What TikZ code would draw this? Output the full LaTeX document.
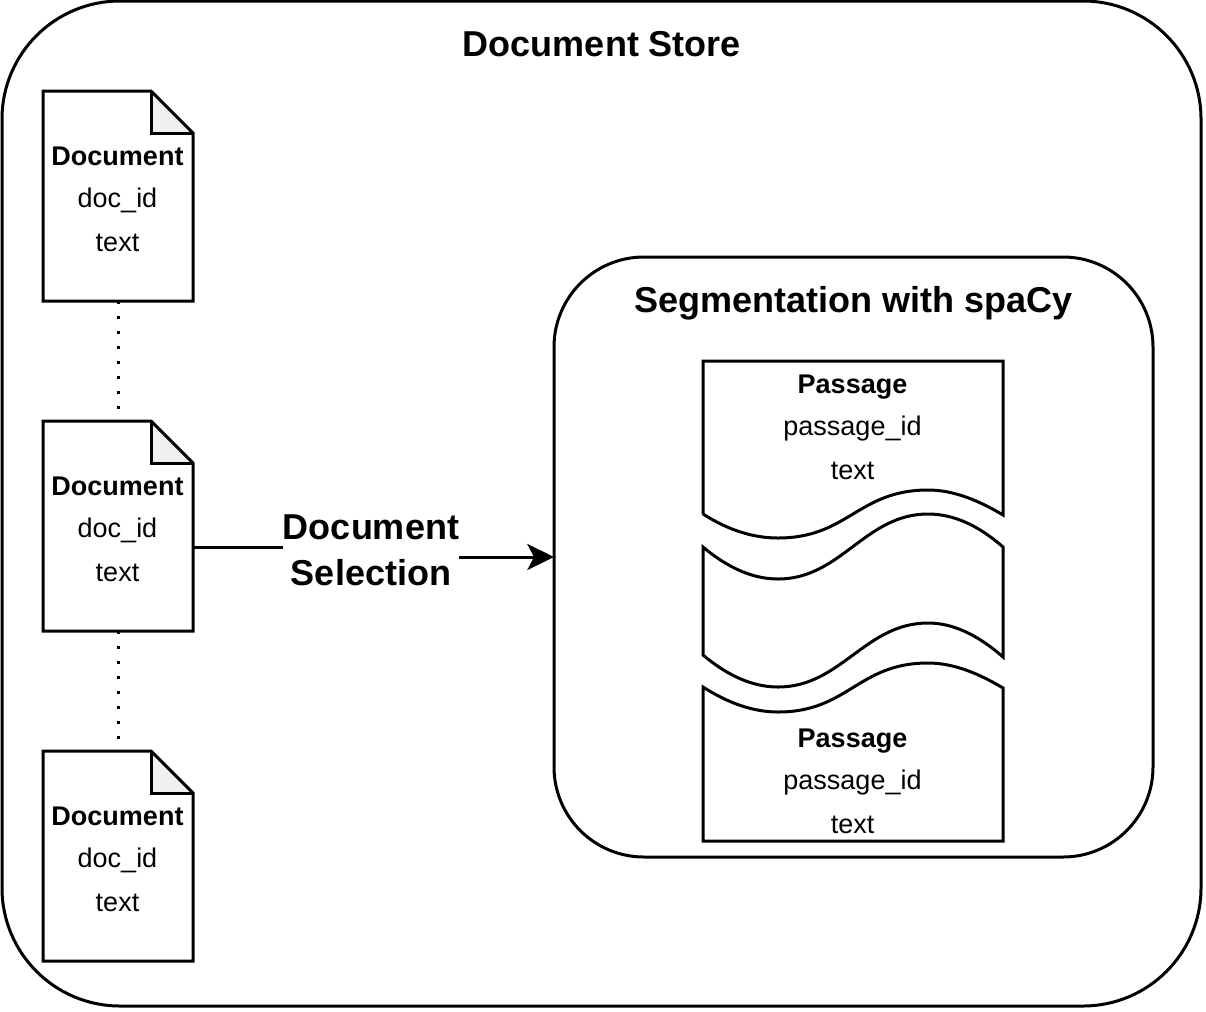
\documentclass[tikz,border=0pt]{standalone}
\usepackage{fontspec}
\setmainfont{Liberation Sans}
\usetikzlibrary{arrows.meta}
\tikzset{
  x=0.75pt,y=-0.75pt,
  ink/.style={draw=black,line width=2.25pt,line join=miter},
  roundbox/.style={ink,rectangle,outer sep=0pt,inner sep=0pt},
  docbox/.style={rectangle,outer sep=0pt,inner sep=0pt,minimum width=112.5pt,minimum height=157.5pt},
  passbox/.style={rectangle,outer sep=0pt,inner sep=0pt,minimum width=225pt,minimum height=10pt},
  fieldtext/.style={align=center,inner sep=0pt,font=\fontsize{20.25}{31.5}\selectfont},
  heading/.style={align=center,inner sep=0pt,font=\fontsize{27}{34.2}\selectfont\bfseries},
  linkline/.style={draw=black,line width=2.25pt,-{Stealth[length=20pt,width=19.5pt,inset=5pt]}},
  dotline/.style={draw=black,line width=2.25pt,dash pattern=on 2.25pt off 9pt},
}
\newcommand{\docoutline}[1]{%
  \fill[black!6] ([xshift=81pt]#1.north west) -- ([xshift=81pt,yshift=-31.5pt]#1.north west) -- ([yshift=-31.5pt]#1.north east) -- cycle;
  \draw[ink] (#1.north west) -- ([xshift=81pt]#1.north west) -- ([yshift=-31.5pt]#1.north east) -- (#1.south east) -- (#1.south west) -- cycle;
  \draw[ink] ([xshift=81pt]#1.north west) -- ([xshift=81pt,yshift=-31.5pt]#1.north west) -- ([yshift=-31.5pt]#1.north east);
}
\begin{document}
\begin{tikzpicture}
\useasboundingbox (0,0) rectangle (1206,1011);
\node[roundbox,minimum width=899.25pt,minimum height=753.75pt,rounded corners=88.5pt] (store) at (601.5,503.5) {};
\node[heading] (storelabel) at (602,44) {Document Store};
\node[roundbox,minimum width=449.25pt,minimum height=450pt,rounded corners=67.5pt] (seg) at (853.5,557) {};
\node[heading] (seglabel) at (853.5,303) {Segmentation with spaCy};
% documents
\node[docbox] (doc1) at (118,196) {};
\node[docbox] (doc2) at (118,526) {};
\node[docbox] (doc3) at (118,856) {};
\draw[dotline] (doc1.south) -- (doc2.north);
\draw[dotline] (doc2.south) -- (doc3.north);
\docoutline{doc1}
\docoutline{doc2}
\docoutline{doc3}
\node[fieldtext] (doc1text) at (117.5,199.5) {\textbf{Document}\\doc\_id\\[1.5pt]text};
\node[fieldtext] (doc2text) at (117.5,529.5) {\textbf{Document}\\doc\_id\\[1.5pt]text};
\node[fieldtext] (doc3text) at (117.5,859.5) {\textbf{Document}\\doc\_id\\[1.5pt]text};
% passages
\node[passbox] (passtop) at (853,361) {};
\node[passbox] (passbot) at (853,841) {};
\draw[ink] (703,514) -- (passtop.west) -- (passtop.east) -- (1003,515)
  .. controls (978,500) and (953,490) .. (928,490)
  .. controls (858,490) and (848,538) .. (778,538)
  .. controls (753,538) and (728,530) .. (703,514);
\draw[ink] (703,547) .. controls (728,568) and (753,579) .. (778,579)
  .. controls (841,579) and (865,514) .. (928,514)
  .. controls (953,514) and (978,525) .. (1003,547)
  -- (1003,657)
  .. controls (978,635) and (953,623) .. (928,623)
  .. controls (865,623) and (841,687) .. (778,687)
  .. controls (753,687) and (728,676) .. (703,655)
  -- cycle;
\draw[ink] (703,687) .. controls (728,703) and (753,712) .. (778,712)
  .. controls (848,712) and (858,663) .. (928,663)
  .. controls (953,663) and (978,673) .. (1003,688)
  -- (passbot.east) -- (passbot.west) -- cycle;
\node[fieldtext] (pass1text) at (852.5,427.5) {\textbf{Passage}\\passage\_id\\[1.5pt]text};
\node[fieldtext] (pass2text) at (852.5,781.5) {\textbf{Passage}\\passage\_id\\[1.5pt]text};
% link
\coordinate (linkstart) at (193,547);
\coordinate (linkbend) at (371,550);
\draw[linkline] (linkstart) -| (linkbend) |- (seg.west);
\node[heading,fill=white] (sel) at (linkbend) {Document\\Selection};
\end{tikzpicture}
\end{document}
